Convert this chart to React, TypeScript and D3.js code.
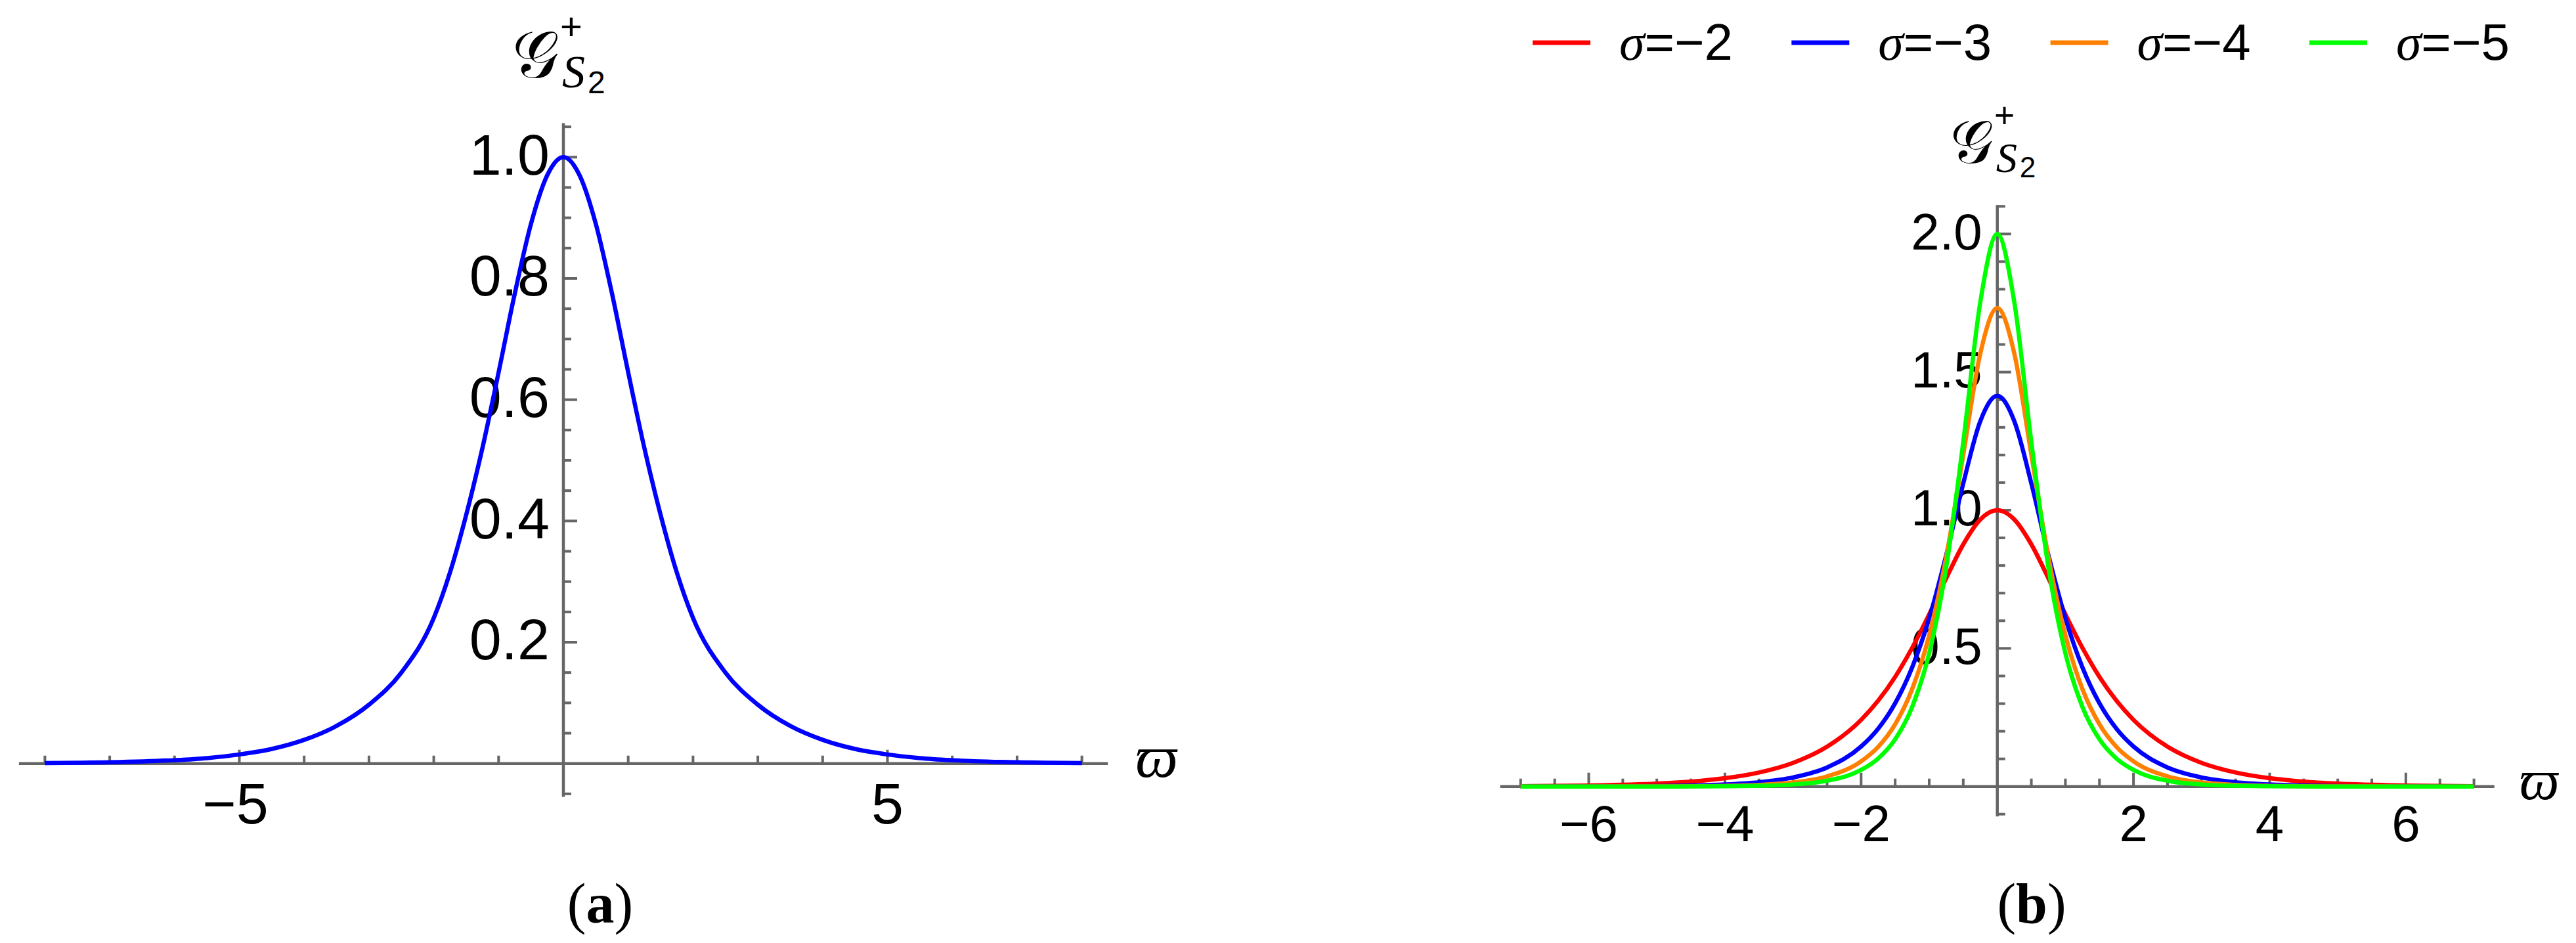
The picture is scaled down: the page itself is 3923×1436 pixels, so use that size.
import React, { useEffect, useRef } from 'react';
import * as d3 from 'd3';

const W = 3923;
const H = 1436;

// panel (a): single curve
const omegaA = [-8, -7, -6, -5.5, -5, -4.5, -4, -3.5, -3, -2.5, -2, -1.75, -1.5, -1.25, -1, -0.75, -0.5, -0.25, 0,
  0.25, 0.5, 0.75, 1, 1.25, 1.5, 1.75, 2, 2.5, 3, 3.5, 4, 4.5, 5, 5.5, 6, 7, 8];
const gA = [0.0008, 0.002, 0.0055, 0.009, 0.015, 0.024, 0.039, 0.062, 0.097, 0.15, 0.24, 0.315, 0.41, 0.52, 0.645, 0.775, 0.89, 0.97, 1,
  0.97, 0.89, 0.775, 0.645, 0.52, 0.41, 0.315, 0.24, 0.15, 0.097, 0.062, 0.039, 0.024, 0.015, 0.009, 0.0055, 0.002, 0.0008];

// panel (b): four sigma values
const omegaB = [-7, -6, -5, -4.5, -4, -3.5, -3, -2.5, -2, -1.75, -1.5, -1.25, -1, -0.75, -0.5, -0.25, 0,
  0.25, 0.5, 0.75, 1, 1.25, 1.5, 1.75, 2, 2.5, 3, 3.5, 4, 4.5, 5, 6, 7];
const gSigma2 = [0.0013, 0.0037, 0.0105, 0.0177, 0.03, 0.0507, 0.0855, 0.1441, 0.2413, 0.3105, 0.397, 0.5019, 0.6235, 0.7539, 0.8764, 0.9665, 1,
  0.9665, 0.8764, 0.7539, 0.6235, 0.5019, 0.397, 0.3105, 0.2413, 0.1441, 0.0855, 0.0507, 0.03, 0.0177, 0.0105, 0.0037, 0.0013];
const gSigma3 = [0.0001, 0.0004, 0.0017, 0.0035, 0.0074, 0.0156, 0.0329, 0.069, 0.1448, 0.2091, 0.3014, 0.4315, 0.609, 0.838, 1.097, 1.322, 1.414,
  1.322, 1.097, 0.838, 0.609, 0.4315, 0.3014, 0.2091, 0.1448, 0.069, 0.0329, 0.0156, 0.0074, 0.0035, 0.0017, 0.0004, 0.0001];
const gSigma4 = [0, 0.0001, 0.0004, 0.001, 0.0024, 0.006, 0.0148, 0.0367, 0.0911, 0.1434, 0.2254, 0.3529, 0.5476, 0.831, 1.2005, 1.567, 1.732,
  1.567, 1.2005, 0.831, 0.5476, 0.3529, 0.2254, 0.1434, 0.0911, 0.0367, 0.0148, 0.006, 0.0024, 0.001, 0.0004, 0.0001, 0];
const gSigma5 = [0, 0, 0.0001, 0.0003, 0.0009, 0.0026, 0.0073, 0.021, 0.06, 0.1014, 0.171, 0.2882, 0.4826, 0.794, 1.247, 1.753, 2,
  1.753, 1.247, 0.794, 0.4826, 0.2882, 0.171, 0.1014, 0.06, 0.021, 0.0073, 0.0026, 0.0009, 0.0003, 0.0001, 0, 0];

const sigmaLabels = ['−2', '−3', '−4', '−5'];
const sigmaColors = ['#ff0000', '#0000ff', '#ff8000', '#00ff00'];
const seriesB = [gSigma2, gSigma3, gSigma4, gSigma5];

// ticks
const xMajorA = [-5, 5];
const xMinorA = [-8, -7, -6, -4, -3, -2, -1, 1, 2, 3, 4, 6, 7, 8];
const yMajorA = [0.2, 0.4, 0.6, 0.8, 1.0];
const yMinorA = [-0.05, 0.05, 0.1, 0.15, 0.25, 0.3, 0.35, 0.45, 0.5, 0.55, 0.65, 0.7, 0.75, 0.85, 0.9, 0.95, 1.05];
const xMajorB = [-6, -4, -2, 2, 4, 6];
const xMinorB = [-7, -6.5, -5.5, -5, -4.5, -3.5, -3, -2.5, -1.5, -1, -0.5, 0.5, 1, 1.5, 2.5, 3, 3.5, 4.5, 5, 5.5, 6.5, 7];
const yMajorB = [0.5, 1.0, 1.5, 2.0];
const yMinorB = [-0.1, 0.1, 0.2, 0.3, 0.4, 0.6, 0.7, 0.8, 0.9, 1.1, 1.2, 1.3, 1.4, 1.6, 1.7, 1.8, 1.9, 2.1];

const AXIS = '#666666';
const SANS = '"Liberation Sans", Arial, sans-serif';
const SERIF = '"Liberation Serif", "Times New Roman", serif';

type Panel = {
  x: d3.ScaleLinear<number, number>;
  y: d3.ScaleLinear<number, number>;
  xMajor: number[];
  xMinor: number[];
  yMajor: number[];
  yMinor: number[];
  fmtY: (v: number) => string;
  fontSize: number;
  xLabelDy: number;
  yLabelGap: number;
  negShift: number;
  labelScale: number;
  varpiSize: number;
  varpiGap: number;
  varpiDy: number;
};

function drawAxes(g: d3.Selection<SVGGElement, unknown, null, undefined>, p: Panel) {
  const [x0, x1] = p.x.range();
  const [yb, yt] = p.y.range();
  const ox = p.x(0);
  const oy = p.y(0);
  const minorLen = 12;
  const majorLen = 21;

  g.append('line').attr('x1', x0).attr('x2', x1).attr('y1', oy).attr('y2', oy)
    .attr('stroke', AXIS).attr('stroke-width', 4.5);
  g.append('line').attr('x1', ox).attr('x2', ox).attr('y1', yb).attr('y2', yt)
    .attr('stroke', AXIS).attr('stroke-width', 4.5);

  p.xMinor.concat(p.xMajor).forEach(v => {
    const len = p.xMajor.includes(v) ? majorLen : minorLen;
    g.append('line').attr('x1', p.x(v)).attr('x2', p.x(v)).attr('y1', oy).attr('y2', oy - len)
      .attr('stroke', AXIS).attr('stroke-width', 4);
  });
  p.yMinor.concat(p.yMajor).forEach(v => {
    const len = p.yMajor.includes(v) ? majorLen : minorLen;
    g.append('line').attr('x1', ox).attr('x2', ox + len).attr('y1', p.y(v)).attr('y2', p.y(v))
      .attr('stroke', AXIS).attr('stroke-width', 4);
  });

  p.xMajor.forEach(v => {
    g.append('text')
      .attr('x', p.x(v) + (v < 0 ? p.negShift : 0))
      .attr('y', oy + p.xLabelDy)
      .attr('text-anchor', 'middle')
      .attr('font-family', SANS)
      .attr('font-size', p.fontSize)
      .attr('fill', '#000')
      .text(v < 0 ? `−${Math.abs(v)}` : `${v}`);
  });
  p.yMajor.forEach(v => {
    g.append('text')
      .attr('x', ox - p.yLabelGap)
      .attr('y', p.y(v) + p.fontSize * 0.3)
      .attr('text-anchor', 'end')
      .attr('font-family', SANS)
      .attr('font-size', p.fontSize)
      .attr('fill', '#000')
      .text(p.fmtY(v));
  });

  // horizontal axis label
  g.append('text')
    .attr('x', x1 + p.varpiGap)
    .attr('y', oy + p.varpiDy)
    .attr('font-family', SERIF)
    .attr('font-style', 'italic')
    .attr('font-size', p.varpiSize)
    .attr('fill', '#000')
    .text('ϖ');

  // vertical axis label: script G with superscript + and subscript S2, one text element
  const k = p.labelScale;
  const lab = g.append('g').attr('transform', `translate(${ox},${yt}) scale(${k})`);
  const t = lab.append('text')
    .attr('x', -78).attr('y', -70)
    .attr('font-family', '"DejaVu Serif", serif')
    .attr('font-size', 100)
    .attr('fill', '#000');
  t.append('tspan').text('𝒢');
  t.append('tspan').attr('x', -5).attr('y', -128)
    .attr('font-family', SANS).attr('font-size', 58)
    .text('+');
  t.append('tspan').attr('x', -2).attr('y', -55)
    .attr('font-family', SERIF).attr('font-style', 'italic').attr('font-size', 70)
    .text('S');
  t.append('tspan').attr('x', 37).attr('y', -46)
    .attr('font-family', SANS).attr('font-size', 48)
    .text('2');
}

const App: React.FC = () => {
  const svgRef = useRef<SVGSVGElement>(null);

  useEffect(() => {
    if (!svgRef.current) return;
    const svg = d3.select(svgRef.current);
    svg.selectAll('*').remove();

    const g = svg.append('g');

    // ---------- panel (a) ----------
    const xA = d3.scaleLinear().domain([-8.4, 8.4]).range([858 - 8.4 * 98.7, 858 + 8.4 * 98.7]);
    const yA = d3.scaleLinear().domain([-0.055, 1.056]).range([1162.7 + 0.055 * 923.4, 1162.7 - 1.056 * 923.4]);

    drawAxes(g, {
      x: xA, y: yA,
      xMajor: xMajorA, xMinor: xMinorA, yMajor: yMajorA, yMinor: yMinorA,
      fmtY: v => v.toFixed(1),
      fontSize: 88, xLabelDy: 91, yLabelGap: 21, negShift: -6,
      labelScale: 1, varpiSize: 92, varpiGap: 42, varpiDy: 20,
    });

    const lineA = d3.line<number>()
      .x((_, i) => xA(omegaA[i]))
      .y(d => yA(d))
      .curve(d3.curveMonotoneX);

    g.append('path')
      .datum(gA)
      .attr('d', lineA)
      .attr('fill', 'none')
      .attr('stroke', '#0000ff')
      .attr('stroke-width', 6.5);

    g.append('text')
      .attr('x', 914)
      .attr('y', 1405)
      .attr('text-anchor', 'middle')
      .attr('font-family', SERIF)
      .attr('font-size', 86)
      .attr('fill', '#000')
      .html('(<tspan font-weight="bold">a</tspan>)');

    // ---------- panel (b) ----------
    const xB = d3.scaleLinear().domain([-7.3, 7.3]).range([3041.7 - 7.3 * 103.7, 3041.7 + 7.3 * 103.7]);
    const yB = d3.scaleLinear().domain([-0.108, 2.105]).range([1197.7 + 0.108 * 420.7, 1197.7 - 2.105 * 420.7]);

    drawAxes(g, {
      x: xB, y: yB,
      xMajor: xMajorB, xMinor: xMinorB, yMajor: yMajorB, yMinor: yMinorB,
      fmtY: v => v.toFixed(1),
      fontSize: 78, xLabelDy: 83, yLabelGap: 23, negShift: 0,
      labelScale: 0.92, varpiSize: 86, varpiGap: 38, varpiDy: 19,
    });

    const lineB = d3.line<number>()
      .x((_, i) => xB(omegaB[i]))
      .y(d => yB(d))
      .curve(d3.curveMonotoneX);

    seriesB.forEach((s, i) => {
      g.append('path')
        .datum(s)
        .attr('d', lineB)
        .attr('fill', 'none')
        .attr('stroke', sigmaColors[i])
        .attr('stroke-width', 6.5);
    });

    g.append('text')
      .attr('x', 3094)
      .attr('y', 1405)
      .attr('text-anchor', 'middle')
      .attr('font-family', SERIF)
      .attr('font-size', 86)
      .attr('fill', '#000')
      .html('(<tspan font-weight="bold">b</tspan>)');

    // legend
    const legend = g.append('g').attr('transform', 'translate(2334,65)');
    sigmaLabels.forEach((lab, i) => {
      const lx = i * 394.3;
      legend.append('line')
        .attr('x1', lx).attr('x2', lx + 88)
        .attr('y1', 0).attr('y2', 0)
        .attr('stroke', sigmaColors[i])
        .attr('stroke-width', 7);
      const t = legend.append('text')
        .attr('x', lx + 132)
        .attr('y', 26)
        .attr('font-size', 78)
        .attr('fill', '#000');
      t.append('tspan').attr('font-family', SERIF).attr('font-style', 'italic').text('σ');
      t.append('tspan').attr('font-family', SANS).text(`=${lab}`);
    });
  }, []);

  return (
    <svg
      ref={svgRef}
      width={W}
      height={H}
      style={{ position: 'absolute', left: 0, top: 0, background: '#fff' }}
    />
  );
};

export default App;
